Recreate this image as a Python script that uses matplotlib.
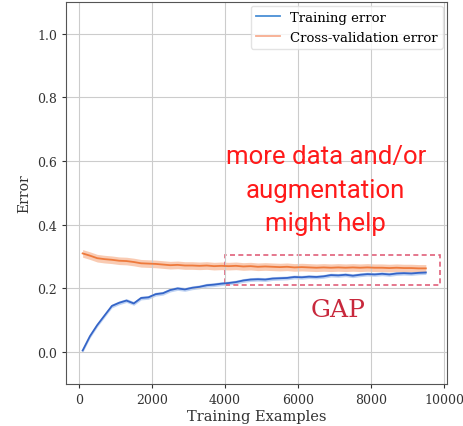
import matplotlib
matplotlib.use("Agg")
import matplotlib.pyplot as plt
import numpy as np
from matplotlib.patches import Rectangle

train_sizes = [100, 300, 500, 700, 900, 1100, 1300, 1500, 1700, 1900,
               2100, 2300, 2500, 2700, 2900, 3100, 3300, 3500, 3700, 3900,
               4100, 4300, 4500, 4700, 4900, 5100, 5300, 5500, 5700, 5900,
               6100, 6300, 6500, 6700, 6900, 7100, 7300, 7500, 7700, 7900,
               8100, 8300, 8500, 8700, 8900, 9100, 9300, 9500]

train_err = [0.005, 0.050, 0.085, 0.115, 0.145, 0.155, 0.162, 0.153, 0.170, 0.172,
             0.182, 0.185, 0.195, 0.200, 0.197, 0.202, 0.205, 0.210, 0.212, 0.215,
             0.217, 0.220, 0.225, 0.228, 0.229, 0.228, 0.231, 0.232, 0.233, 0.236,
             0.235, 0.237, 0.236, 0.238, 0.242, 0.241, 0.243, 0.240, 0.243, 0.245,
             0.244, 0.246, 0.244, 0.247, 0.248, 0.247, 0.249, 0.250]

cv_err = [0.310, 0.303, 0.295, 0.292, 0.290, 0.287, 0.286, 0.283, 0.279, 0.278,
          0.277, 0.275, 0.273, 0.274, 0.272, 0.272, 0.271, 0.272, 0.270, 0.271,
          0.270, 0.271, 0.269, 0.270, 0.268, 0.269, 0.268, 0.267, 0.268, 0.266,
          0.267, 0.266, 0.265, 0.266, 0.265, 0.266, 0.265, 0.266, 0.265, 0.266,
          0.265, 0.265, 0.264, 0.265, 0.264, 0.264, 0.263, 0.263]

train_band = 0.006
cv_band = 0.012

plt.rcParams['font.family'] = 'DejaVu Serif'

fig = plt.figure(figsize=(4.63, 4.27), dpi=100)
ax = fig.add_axes([0.1425, 0.0984, 0.823, 0.895])

x = np.array(train_sizes)
tr = np.array(train_err)
cv = np.array(cv_err)

ax.fill_between(x, tr - train_band, tr + train_band, color='#7fa6e6', alpha=0.5, lw=0)
ax.fill_between(x, cv - cv_band, cv + cv_band, color='#f7b08a', alpha=0.65, lw=0)
ax.plot(x, tr, color='#3565c8', lw=1.3, label='Training error')
ax.plot(x, cv, color='#ee7a3c', lw=1.3, label='Cross-validation error')

ax.set_xlim(-356, 10080)
ax.set_ylim(-0.1, 1.1)
ax.set_xticks([0, 2000, 4000, 6000, 8000, 10000])
ax.set_yticks([0.0, 0.2, 0.4, 0.6, 0.8, 1.0])
ax.tick_params(labelsize=9, colors='#333333', length=3)
ax.grid(True, color='#cccccc', lw=0.8)
for s in ax.spines.values():
    s.set_color('#555555')
ax.set_xlabel('Training Examples', fontsize=10.5, color='#333333', labelpad=2)
ax.set_ylabel('Error', fontsize=10, color='#333333')

leg = ax.legend(loc='upper right', fontsize=9.5, frameon=True, borderaxespad=0.3,
                handlelength=1.8)
leg.get_frame().set_edgecolor('#dddddd')
leg.get_lines()[0].set_color('#4a8fd6')
leg.get_lines()[1].set_color('#f7ad90')

rect = Rectangle((4000, 0.210), 5900, 0.094, fill=False, ls=(0, (3, 2)),
                 ec='#e0607a', lw=1.2)
ax.add_patch(rect)

ax.text(6760, 0.51, 'more data and/or\naugmentation\nmight help', color='#ff1a1a',
        fontsize=18.5, family='Roboto', ha='center', va='center', linespacing=1.5)
ax.text(7100, 0.135, 'GAP', color='#c8283c', fontsize=18, ha='center', va='center')

fig.savefig('out.png', dpi=100)
